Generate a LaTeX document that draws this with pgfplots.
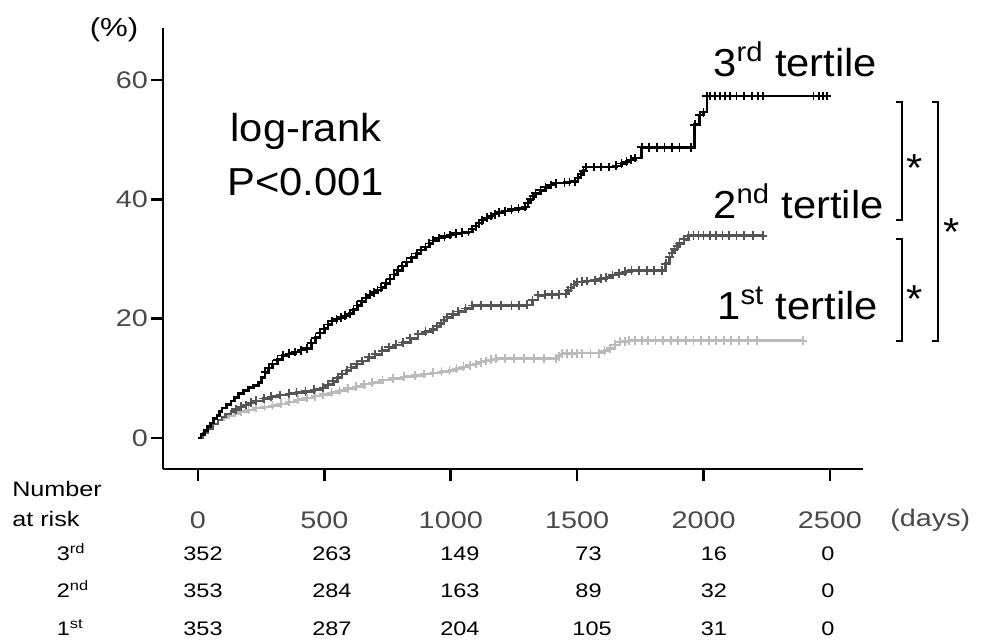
\documentclass[border=0pt]{standalone}
\usepackage{fontspec}
\setmainfont[FakeStretch=1.07]{Liberation Sans}
\newfontfamily\smallfont[FakeStretch=1.2]{Liberation Sans}
\usepackage{pgfplots}
\pgfplotsset{compat=1.18}
\usepackage{pgfplotstable}

\definecolor{darkT}{HTML}{555555}
\definecolor{lightT}{HTML}{BBBBBB}
\definecolor{tickgray}{HTML}{4A4A4A}
\newcommand\bigtxt{\fontsize{19.5}{22}\selectfont}
\newcommand\ticktxt{\smallfont\fontsize{12}{14}\selectfont}
\newcommand\risktxt{\smallfont\fontsize{9.8}{12}\selectfont}

% cumulative incidence (%) by day, 3rd tertile
\pgfplotstableread{
d v
0 0
12 0.6
25 1.2
38 1.9
50 2.5
62 3.2
75 3.8
85 4.4
95 5.0
112 5.6
130 6.2
145 6.8
160 7.4
180 7.9
200 8.4
220 8.8
240 9.3
252 10.1
265 11.0
280 11.7
295 12.4
315 13.1
335 13.8
360 14.1
385 14.4
408 14.7
430 15.0
448 15.9
465 16.8
483 17.6
500 18.3
515 19.0
530 19.6
548 19.9
565 20.2
583 20.5
600 20.8
615 21.5
630 22.2
648 22.9
665 23.5
680 24.0
695 24.4
710 24.8
725 25.2
743 25.9
760 26.6
775 27.4
790 28.1
808 28.8
825 29.5
845 30.2
865 30.9
883 31.5
900 32.0
915 32.6
930 33.1
953 33.5
975 33.8
998 34.0
1020 34.3
1045 34.4
1070 34.5
1085 35.0
1100 35.5
1112 36.0
1125 36.5
1143 36.9
1160 37.2
1175 37.5
1190 37.8
1215 38.0
1240 38.3
1268 38.5
1295 38.7
1305 39.4
1315 40.0
1325 40.5
1335 41.0
1355 41.5
1375 42.0
1395 42.4
1415 42.7
1450 42.8
1470 42.9
1490 43.0
1503 43.6
1515 44.2
1525 44.8
1535 45.4
1565 45.4
1595 45.4
1625 45.4
1655 45.6
1675 46.0
1695 46.3
1713 46.6
1730 46.9
1755 48.7
1785 48.7
1815 48.7
1845 48.7
1875 48.7
1905 48.7
1950 48.7
1965 52.5
1985 54.1
2000 54.6
2013 57.3
2025 57.3
2045 57.3
2065 57.3
2085 57.3
2105 57.3
2130 57.3
2160 57.3
2190 57.3
2215 57.3
2235 57.3
2435 57.3
2455 57.3
2472 57.3
2488 57.3
}\thirdT

% 2nd tertile
\pgfplotstableread{
d v
0 0
20 0.8
40 1.5
60 2.3
80 3.0
95 3.5
110 4.0
130 4.4
150 4.8
170 5.2
190 5.5
210 5.9
230 6.2
260 6.6
290 6.9
325 7.2
360 7.4
390 7.6
425 7.8
460 8.1
495 8.4
515 8.9
535 9.5
553 10.1
570 10.7
588 11.3
605 11.8
628 12.4
650 12.9
675 13.5
700 14.0
728 14.6
755 15.2
783 15.6
810 16.0
840 16.7
870 17.4
900 17.8
930 18.2
945 18.7
960 19.2
973 19.7
985 20.2
1008 20.7
1030 21.2
1058 21.7
1085 22.2
1120 22.2
1160 22.2
1200 22.2
1240 22.2
1270 22.2
1300 22.3
1323 23.1
1345 23.9
1373 24.0
1400 24.0
1428 24.1
1455 24.2
1465 24.7
1475 25.2
1488 25.7
1500 26.1
1520 26.2
1540 26.3
1570 26.4
1593 26.7
1615 26.9
1640 27.3
1665 27.6
1690 27.9
1715 28.1
1745 28.1
1775 28.1
1805 28.1
1835 28.1
1850 29.2
1865 30.3
1875 31.0
1885 31.6
1895 32.1
1905 32.6
1922 33.3
1940 33.9
1960 33.9
1980 33.9
2000 33.9
2025 33.9
2050 33.9
2075 33.9
2100 33.9
2130 33.9
2160 33.9
2195 33.9
2235 33.9
}\secondT

% 1st tertile
\pgfplotstableread{
d v
0 0
20 0.8
40 1.5
60 2.3
80 3.0
100 3.4
120 3.7
145 4.1
170 4.4
200 4.7
230 5.0
263 5.2
295 5.4
328 5.7
360 6.0
395 6.4
430 6.7
463 7.0
495 7.3
528 7.6
560 7.9
593 8.3
625 8.6
658 9.0
690 9.3
730 9.7
770 10.0
815 10.3
860 10.5
895 10.7
930 10.9
963 11.1
995 11.3
1023 11.6
1050 11.9
1075 12.2
1100 12.4
1120 12.7
1140 12.9
1160 13.1
1180 13.3
1215 13.3
1250 13.3
1290 13.3
1330 13.3
1370 13.3
1415 13.3
1428 13.7
1440 14.1
1460 14.1
1480 14.1
1500 14.2
1520 14.2
1553 14.2
1585 14.2
1608 14.6
1630 15.0
1650 15.6
1670 16.1
1688 16.2
1705 16.3
1730 16.3
1755 16.3
1780 16.3
1810 16.3
1840 16.3
1870 16.3
1900 16.3
1930 16.3
1960 16.3
1990 16.3
2020 16.3
2050 16.3
2080 16.3
2110 16.3
2140 16.3
2175 16.3
2210 16.3
2393 16.3
}\firstT

\begin{document}
\begin{tikzpicture}
\begin{axis}[
  scale only axis, width=350pt, height=220.5pt,
  xmin=-138, xmax=2630, ymin=-5.2, ymax=68.7,
  axis x line*=bottom, axis y line*=left,
  axis line style={line width=1.3pt},
  tick align=outside, major tick length=6pt,
  tick style={black, line width=1.3pt},
  xtick={0,500,...,2500}, ytick={0,20,40,60},
  /pgf/number format/assume math mode=true,
  /pgf/number format/1000 sep={},
  ticklabel style={font=\ticktxt, text=tickgray},
  xticklabel style={yshift=-12pt},
  yticklabel style={xshift=2pt},
  clip=false,
]
% curves
\addplot[const plot, color=lightT, line width=1.3pt] table[x=d,y=v]{\firstT};
\addplot[only marks, mark=+, mark size=2.2pt, color=lightT, mark options={line width=0.9pt}, restrict x to domain=150:2600] table[x=d,y=v]{\firstT};
\addplot[const plot, color=darkT, line width=1.3pt] table[x=d,y=v]{\secondT};
\addplot[only marks, mark=+, mark size=2.2pt, color=darkT, mark options={line width=0.9pt}, restrict x to domain=150:2600] table[x=d,y=v]{\secondT};
\addplot[const plot, color=black, line width=1.3pt] table[x=d,y=v]{\thirdT};
\addplot[only marks, mark=+, mark size=2.2pt, color=black, mark options={line width=0.9pt}, restrict x to domain=260:2600] table[x=d,y=v]{\thirdT};

% annotations
\node[anchor=base, font=\bigtxt] at (axis cs:427,49.6) {log-rank};
\node[anchor=base, font=\bigtxt] at (axis cs:427,40.7) {P<0.001};
\node[anchor=base west, font=\bigtxt, inner sep=0pt] at (axis cs:2037,60.5) {3\textsuperscript{rd} tertile};
\node[anchor=base west, font=\bigtxt, inner sep=0pt] at (axis cs:2037,36.8) {2\textsuperscript{nd} tertile};
\node[anchor=base west, font=\bigtxt, inner sep=0pt] at (axis cs:2053,19.8) {1\textsuperscript{st} tertile};

\draw[line width=1pt] (axis cs:2761,56.3) -- (axis cs:2785,56.3) -- (axis cs:2785,36.5) -- (axis cs:2761,36.5);
\draw[line width=1pt] (axis cs:2761,33.3) -- (axis cs:2785,33.3) -- (axis cs:2785,16.2) -- (axis cs:2761,16.2);
\draw[line width=1pt] (axis cs:2903,56.3) -- (axis cs:2927,56.3) -- (axis cs:2927,16.2) -- (axis cs:2903,16.2);
\node[anchor=base, font=\bigtxt, inner sep=0pt] at (axis cs:2836,42.9) {*};
\node[anchor=base, font=\bigtxt, inner sep=0pt] at (axis cs:2836,21.1) {*};
\node[anchor=base, font=\bigtxt, inner sep=0pt] at (axis cs:2983,32.3) {*};

\node[anchor=base, font=\smallfont\fontsize{13}{15}\selectfont, inner sep=0pt] at (axis cs:-332,67.3) {(\%)};
\node[anchor=base west, font=\ticktxt, text=tickgray, inner sep=0pt] at (axis cs:2737,-14.9) {(days)};

% number at risk
\node[anchor=base west, font=\smallfont\fontsize{10.5}{12}\selectfont, inner sep=0pt] at (axis cs:-736,-9.9) {Number};
\node[anchor=base west, font=\smallfont\fontsize{10.5}{12}\selectfont, inner sep=0pt] at (axis cs:-736,-14.9) {at risk};
\node[anchor=base west, font=\risktxt, inner sep=0pt] at (axis cs:-560,-20.6) {3\textsuperscript{rd}};
\node[anchor=base west, font=\risktxt, inner sep=0pt] at (axis cs:-560,-26.8) {2\textsuperscript{nd}};
\node[anchor=base west, font=\risktxt, inner sep=0pt] at (axis cs:-560,-33.1) {1\textsuperscript{st}};

\node[anchor=base, font=\risktxt, inner sep=0pt] at (axis cs:20,-20.6) {352};
\node[anchor=base, font=\risktxt, inner sep=0pt] at (axis cs:530,-20.6) {263};
\node[anchor=base, font=\risktxt, inner sep=0pt] at (axis cs:1036,-20.6) {149};
\node[anchor=base, font=\risktxt, inner sep=0pt] at (axis cs:1545,-20.6) {73};
\node[anchor=base, font=\risktxt, inner sep=0pt] at (axis cs:2041,-20.6) {16};
\node[anchor=base, font=\risktxt, inner sep=0pt] at (axis cs:2492,-20.6) {0};

\node[anchor=base, font=\risktxt, inner sep=0pt] at (axis cs:20,-26.8) {353};
\node[anchor=base, font=\risktxt, inner sep=0pt] at (axis cs:530,-26.8) {284};
\node[anchor=base, font=\risktxt, inner sep=0pt] at (axis cs:1036,-26.8) {163};
\node[anchor=base, font=\risktxt, inner sep=0pt] at (axis cs:1545,-26.8) {89};
\node[anchor=base, font=\risktxt, inner sep=0pt] at (axis cs:2041,-26.8) {32};
\node[anchor=base, font=\risktxt, inner sep=0pt] at (axis cs:2492,-26.8) {0};

\node[anchor=base, font=\risktxt, inner sep=0pt] at (axis cs:20,-33.1) {353};
\node[anchor=base, font=\risktxt, inner sep=0pt] at (axis cs:530,-33.1) {287};
\node[anchor=base, font=\risktxt, inner sep=0pt] at (axis cs:1036,-33.1) {204};
\node[anchor=base, font=\risktxt, inner sep=0pt] at (axis cs:1559,-33.1) {105};
\node[anchor=base, font=\risktxt, inner sep=0pt] at (axis cs:2041,-33.1) {31};
\node[anchor=base, font=\risktxt, inner sep=0pt] at (axis cs:2492,-33.1) {0};

\coordinate (bbA) at (axis cs:-783,73.4);
\coordinate (bbB) at (axis cs:3129,-34.2);
\end{axis}
\pgfresetboundingbox
\path (bbA) rectangle (bbB);
\end{tikzpicture}
\end{document}
